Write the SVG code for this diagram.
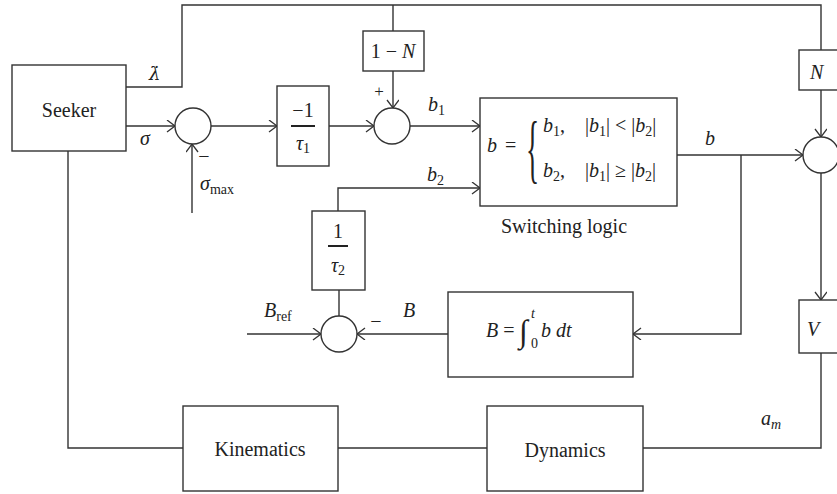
<svg xmlns="http://www.w3.org/2000/svg" width="837" height="494" viewBox="0 0 837 494">
<style>
.bx{fill:#fff;stroke:#333;stroke-width:1.4}
.ln{fill:none;stroke:#333;stroke-width:1.4}
.ar{marker-end:url(#arr)}
text{font-family:"Liberation Serif","DejaVu Serif",serif;fill:#222;font-size:20px}
.c{text-anchor:middle}
.i{font-style:italic}
.s{font-size:14px}
</style>
<defs>
<marker id="arr" markerUnits="userSpaceOnUse" markerWidth="12" markerHeight="14" refX="9" refY="6" orient="auto">
<path d="M1,0 L9,6 L1,12" fill="none" stroke="#333" stroke-width="1.3"/>
</marker>
</defs>
<rect width="837" height="494" fill="#fff"/>
<g id="connectors">
<path class="ln" d="M126,87 H182 V5 H821 V50"/>
<path class="ln" d="M393,5 V31"/>
<path class="ln ar" d="M126,126 H175"/>
<path class="ln ar" d="M192,213 V144"/>
<path class="ln ar" d="M211,126 H277"/>
<path class="ln ar" d="M329,126 H374"/>
<path class="ln ar" d="M393,71 V108"/>
<path class="ln ar" d="M410,126 H480"/>
<path class="ln ar" d="M338,211 V188 H480"/>
<path class="ln ar" d="M821,90 V137"/>
<path class="ln ar" d="M677,155 H803"/>
<path class="ln ar" d="M741,155 V334 H633"/>
<path class="ln ar" d="M821,173 V300"/>
<path class="ln" d="M821,353 V448 H643"/>
<path class="ln" d="M487,448 H338"/>
<path class="ln" d="M183,448 H68 V151"/>
<path class="ln ar" d="M448,334 H357"/>
<path class="ln ar" d="M247,334 H321"/>
<path class="ln" d="M339,316 V290"/>
</g>
<g id="labels">
<text x="149" y="80" style="font-family:'DejaVu Serif',serif;font-style:italic;font-size:18px">λ̇</text>
<text x="140" y="145" class="i">σ</text>
<text x="200" y="190"><tspan class="i">σ</tspan><tspan class="s" dy="4">max</tspan></text>
<text x="204" y="163" class="c">−</text>
<text x="379" y="97" class="c" style="font-size:17px">+</text>
<text x="428" y="111"><tspan class="i">b</tspan><tspan class="s" dy="4">1</tspan></text>
<text x="427" y="181"><tspan class="i">b</tspan><tspan class="s" dy="4">2</tspan></text>
<text x="705" y="145" class="i">b</text>
<text x="761" y="425"><tspan class="i">a</tspan><tspan class="s i" dy="4">m</tspan></text>
<text x="264" y="317"><tspan class="i">B</tspan><tspan class="s" dy="4">ref</tspan></text>
<text x="376" y="328" class="c">−</text>
<text x="403" y="317" class="i">B</text>
</g>
<g id="seeker"><rect class="bx" x="12" y="65" width="114" height="86"/><text x="69" y="117" class="c">Seeker</text></g>
<g id="sum1"><circle class="bx" cx="193" cy="126" r="18"/></g>
<g id="gain1"><rect class="bx" x="277" y="86" width="52" height="80"/>
<text x="303" y="117" class="c">−1</text>
<line x1="291" y1="126" x2="315" y2="126" stroke="#222" stroke-width="2"/>
<text x="303" y="150" class="c"><tspan class="i">τ</tspan><tspan class="s" dy="3">1</tspan></text></g>
<g id="oneMinusN"><rect class="bx" x="363" y="31" width="61" height="40"/><text x="393" y="58" class="c">1 − <tspan class="i">N</tspan></text></g>
<g id="sum2"><circle class="bx" cx="392" cy="126" r="18"/></g>
<g id="switch"><rect class="bx" x="480" y="98" width="197" height="108"/>
<text x="487" y="152" class="i">b</text><text x="505" y="152">=</text>
<text x="0" y="0" transform="translate(526,174) scale(0.36,1)" style="font-size:76px">{</text>
<text x="543" y="132"><tspan class="i">b</tspan><tspan class="s" dy="4">1</tspan><tspan dy="-4">,</tspan></text>
<text x="585" y="132">|<tspan class="i">b</tspan><tspan class="s" dy="4">1</tspan><tspan dy="-4">| &lt; |</tspan><tspan class="i">b</tspan><tspan class="s" dy="4">2</tspan><tspan dy="-4">|</tspan></text>
<text x="543" y="177"><tspan class="i">b</tspan><tspan class="s" dy="4">2</tspan><tspan dy="-4">,</tspan></text>
<text x="585" y="177">|<tspan class="i">b</tspan><tspan class="s" dy="4">1</tspan><tspan dy="-4">| ≥ |</tspan><tspan class="i">b</tspan><tspan class="s" dy="4">2</tspan><tspan dy="-4">|</tspan></text>
<text x="564" y="233" class="c">Switching logic</text></g>
<g id="N"><rect class="bx" x="799" y="50" width="44" height="40"/><text x="810" y="79" class="i">N</text></g>
<g id="sum3"><circle class="bx" cx="821" cy="155" r="18"/></g>
<g id="V"><rect class="bx" x="799" y="300" width="44" height="53"/><text x="807" y="336" class="i">V</text></g>
<g id="gain2"><rect class="bx" x="312" y="211" width="53" height="79"/>
<text x="338" y="238" class="c">1</text>
<line x1="328" y1="246" x2="348" y2="246" stroke="#222" stroke-width="2"/>
<text x="338" y="272" class="c"><tspan class="i">τ</tspan><tspan class="s" dy="3">2</tspan></text></g>
<g id="sumB"><circle class="bx" cx="339" cy="334" r="18"/></g>
<g id="integrator"><rect class="bx" x="448" y="292" width="185" height="85"/>
<text x="486" y="337"><tspan class="i">B</tspan> = </text>
<text x="519" y="342" style="font-size:32px">∫</text>
<text x="531" y="318" class="s i">t</text>
<text x="531" y="348" class="s">0</text>
<text x="541" y="337" class="i">b dt</text></g>
<g id="kinematics"><rect class="bx" x="183" y="406" width="155" height="85"/><text x="260" y="456" class="c">Kinematics</text></g>
<g id="dynamics"><rect class="bx" x="487" y="406" width="156" height="85"/><text x="565" y="457" class="c">Dynamics</text></g>
</svg>
